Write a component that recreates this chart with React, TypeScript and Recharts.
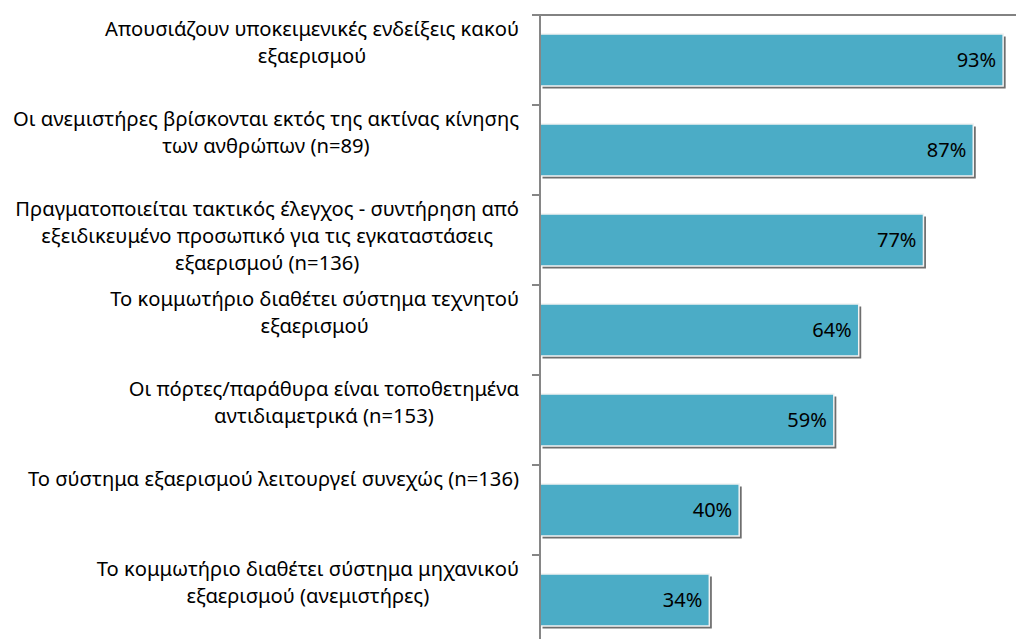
import React from 'react';
import { BarChart, Bar, XAxis, YAxis, LabelList } from 'recharts';

const categories = [
    'Απουσιάζουν υποκειμενικές ενδείξεις κακού\nεξαερισμού',
    'Οι ανεμιστήρες βρίσκονται εκτός της ακτίνας κίνησης\nτων ανθρώπων (n=89)',
    'Πραγματοποιείται τακτικός έλεγχος - συντήρηση από\nεξειδικευμένο προσωπικό για τις εγκαταστάσεις\nεξαερισμού (n=136)',
    'Το κομμωτήριο διαθέτει σύστημα τεχνητού\nεξαερισμού',
    'Οι πόρτες/παράθυρα είναι τοποθετημένα\nαντιδιαμετρικά (n=153)',
    'Το σύστημα εξαερισμού λειτουργεί συνεχώς (n=136)',
    'Το κομμωτήριο διαθέτει σύστημα μηχανικού\nεξαερισμού (ανεμιστήρες)',
];
const values = [93, 87, 77, 64, 59, 40, 34];

const data = categories.map((name, i) => ({ name, value: values[i] }));

const FONT = '"Noto Sans", sans-serif';
const FONT_SIZE = 20.2;
const PLOT_HEIGHT = 630;
const BAND = PLOT_HEIGHT / categories.length;

let ctx: CanvasRenderingContext2D | null = null;
const measure = (s: string) => {
    if (!ctx) ctx = document.createElement('canvas').getContext('2d');
    if (!ctx) return s.length * 10;
    ctx.font = `${FONT_SIZE}px "Noto Sans"`;
    return ctx.measureText(s).width;
};

const CategoryTick = ({ x, y, payload }: any) => {
    const lines = String(payload.value).split('\n');
    const widest = Math.max(...lines.map(measure));
    const cx = x - 21 - widest / 2;
    const top = y - BAND / 2;
    return (
        <g>
            <line x1={x - 8} x2={x} y1={top} y2={top} stroke="#868686" strokeWidth={2} />
            <text textAnchor="middle" fontFamily={FONT} fontSize={FONT_SIZE} fill="#000">
                {lines.map((l, i) => (
                    <tspan key={i} x={cx} y={top + 14 + i * 27} dy="0.35em">{l}</tspan>
                ))}
            </text>
        </g>
    );
};

const ShadowBar = ({ x, y, width, height }: any) => (
    <g>
        <rect x={x + 2.5} y={y + 2.5} width={width} height={height} fill="#6e6e6e" />
        <rect x={x} y={y} width={width} height={height} fill="#4BACC6" stroke="#f2f2f2" strokeWidth={1.5} />
    </g>
);

const App = () => {
    return (
        <div style={{ width: 1016, height: 631, overflow: 'hidden' }}>
            <BarChart
                width={1030}
                height={640}
                data={data}
                layout="vertical"
                margin={{ top: 6, right: 0, left: 0, bottom: 3 }}
            >
                <XAxis
                    type="number"
                    orientation="top"
                    domain={[0, 100]}
                    height={1}
                    tick={false}
                    tickLine={false}
                    axisLine={{ stroke: '#595959', strokeWidth: 1.5 }}
                />
                <YAxis
                    type="category"
                    dataKey="name"
                    width={532}
                    tickSize={0}
                    tickMargin={0}
                    tickLine={false}
                    interval={0}
                    axisLine={{ stroke: '#868686', strokeWidth: 2 }}
                    tick={<CategoryTick />}
                />
                <Bar dataKey="value" barSize={52} shape={<ShadowBar />} isAnimationActive={false}>
                    <LabelList
                        dataKey="value"
                        position="insideRight"
                        offset={7}
                        formatter={(v: any) => `${v}%`}
                        fill="#000"
                        fontSize={20}
                        fontFamily={FONT}
                    />
                </Bar>
            </BarChart>
        </div>
    );
};

export default App;
